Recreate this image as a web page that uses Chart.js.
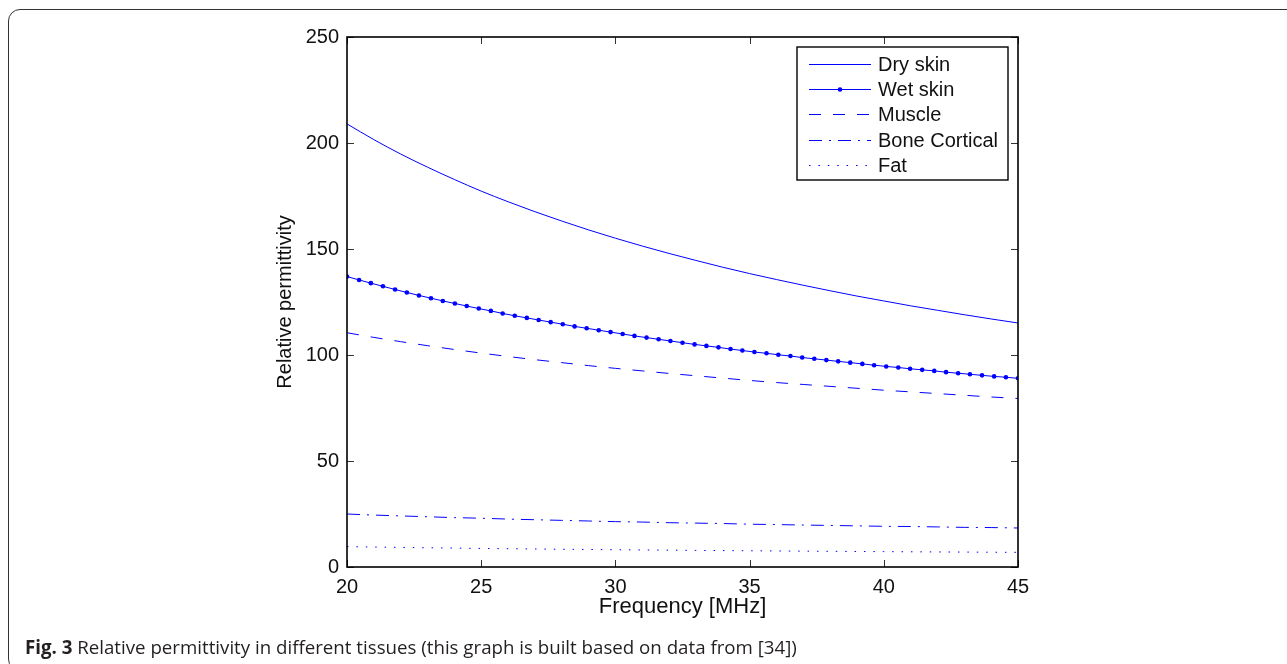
<!DOCTYPE html>
<html>
<head>
<meta charset="utf-8">
<title>Relative permittivity in different tissues</title>
<script src="https://cdn.jsdelivr.net/npm/chart.js@4.4.1/dist/chart.umd.min.js"></script>
<style>
    html, body { margin: 0; padding: 0; background: #fff; }
    body { width: 1287px; height: 664px; position: relative; overflow: hidden; }
    #frame {
        position: absolute; left: 8px; top: 9px; width: 1320px; height: 662px;
        border: 1.6px solid #333; border-radius: 12px; box-sizing: border-box;
    }
    #chartWrap { position: absolute; left: 0; top: 0; width: 1287px; height: 664px; }
    #caption {
        position: absolute; left: 25px; top: 636px; line-height: 22px;
        font-family: "Open Sans", sans-serif; font-size: 18.7px; color: #231f20;
        white-space: nowrap;
    }
    #caption b { font-weight: 700; }
</style>
</head>
<body>
<div id="frame"></div>
<div id="chartWrap"><canvas id="permChart" width="1287" height="664"></canvas></div>
<div id="caption"><b>Fig. 3</b> Relative permittivity in different tissues (this graph is built based on data from [34])</div>

<script>
// Frequency grid (MHz) used by the wet skin curve (one marker per sample)
const freqFine = [
    20.00, 20.45, 20.89, 21.34, 21.79, 22.23, 22.68, 23.13, 23.57, 24.02,
    24.46, 24.91, 25.36, 25.80, 26.25, 26.70, 27.14, 27.59, 28.04, 28.48,
    28.93, 29.38, 29.82, 30.27, 30.71, 31.16, 31.61, 32.05, 32.50, 32.95,
    33.39, 33.84, 34.29, 34.73, 35.18, 35.63, 36.07, 36.52, 36.96, 37.41,
    37.86, 38.30, 38.75, 39.20, 39.64, 40.09, 40.54, 40.98, 41.43, 41.88,
    42.32, 42.77, 43.21, 43.66, 44.11, 44.55, 45.00
];

// Frequency grid (MHz) for the other tissues
const freqCoarse = [
    20, 21, 22, 23, 24, 25, 26, 27, 28, 29, 30, 31, 32,
    33, 34, 35, 36, 37, 38, 39, 40, 41, 42, 43, 44, 45
];

const wetSkin = [
    137.0, 135.4, 133.9, 132.4, 130.9, 129.5, 128.1, 126.8, 125.5, 124.3,
    123.1, 121.9, 120.8, 119.6, 118.5, 117.5, 116.5, 115.5, 114.5, 113.5,
    112.6, 111.7, 110.8, 109.9, 109.0, 108.2, 107.4, 106.6, 105.8, 105.0,
    104.3, 103.6, 102.8, 102.1, 101.4, 100.8, 100.1, 99.5, 98.8, 98.2,
    97.6, 97.0, 96.4, 95.8, 95.2, 94.6, 94.1, 93.5, 93.0, 92.5,
    91.9, 91.4, 90.9, 90.4, 89.9, 89.5, 89.0
];

const drySkin = [
    209.0, 201.6, 194.8, 188.6, 182.8, 177.3, 172.3, 167.6, 163.2, 159.0,
    155.1, 151.4, 147.9, 144.6, 141.4, 138.4, 135.6, 132.9, 130.3, 127.8,
    125.5, 123.2, 121.1, 119.0, 117.0, 115.1
];

const muscle = [
    110.5, 108.3, 106.3, 104.4, 102.6, 100.9, 99.3, 97.8, 96.4, 95.0,
    93.7, 92.5, 91.3, 90.2, 89.1, 88.0, 87.0, 86.1, 85.2, 84.3,
    83.4, 82.6, 81.8, 81.0, 80.2, 79.5
];

const boneCortical = [
    25.0, 24.5, 24.1, 23.7, 23.3, 23.0, 22.6, 22.3, 22.0, 21.7,
    21.4, 21.2, 20.9, 20.7, 20.5, 20.2, 20.0, 19.8, 19.6, 19.4,
    19.2, 19.1, 18.9, 18.7, 18.6, 18.4
];

const fat = [
    9.60, 9.41, 9.24, 9.07, 8.92, 8.77, 8.63, 8.50, 8.37, 8.26,
    8.14, 8.04, 7.93, 7.83, 7.74, 7.65, 7.56, 7.48, 7.40, 7.32,
    7.25, 7.17, 7.10, 7.04, 6.97, 6.91
];

const xTicks = [20, 25, 30, 35, 40, 45];
const yTicks = [0, 50, 100, 150, 200, 250];

const BLUE = '#0000ff';
const FONT = '"Liberation Sans", Arial, Helvetica, sans-serif';

function toPoints(xs, ys) {
    return xs.map((x, i) => ({ x: x, y: ys[i] }));
}

// Box around the plot with inward ticks on all four sides
const axesBox = {
    id: 'axesBox',
    afterDraw(chart) {
        const { ctx, chartArea: a, scales } = chart;
        const tickLen = 7;
        ctx.save();
        ctx.strokeStyle = '#333';
        ctx.lineWidth = 1;
        ctx.beginPath();
        xTicks.forEach(v => {
            const px = Math.round(scales.x.getPixelForValue(v)) + 0.5;
            ctx.moveTo(px, a.bottom); ctx.lineTo(px, a.bottom - tickLen);
            ctx.moveTo(px, a.top); ctx.lineTo(px, a.top + tickLen);
        });
        yTicks.forEach(v => {
            const py = Math.round(scales.y.getPixelForValue(v)) + 0.5;
            ctx.moveTo(a.left, py); ctx.lineTo(a.left + tickLen, py);
            ctx.moveTo(a.right, py); ctx.lineTo(a.right - tickLen, py);
        });
        ctx.stroke();
        ctx.strokeStyle = '#000';
        ctx.lineWidth = 1.6;
        ctx.strokeRect(a.left, a.top, a.right - a.left, a.bottom - a.top);
        ctx.restore();
    }
};

// Legend box in the upper right corner of the plot
const boxLegend = {
    id: 'boxLegend',
    afterDraw(chart) {
        const { ctx, chartArea: a } = chart;
        const w = 211, h = 133;
        const left = a.right - 10 - w;
        const top = a.top + 10;
        ctx.save();
        ctx.fillStyle = '#fff';
        ctx.fillRect(left, top, w, h);
        ctx.strokeStyle = '#000';
        ctx.lineWidth = 1.4;
        ctx.strokeRect(left, top, w, h);

        ctx.font = '20px ' + FONT;
        ctx.textBaseline = 'middle';
        ctx.textAlign = 'left';
        chart.data.datasets.forEach((ds, i) => {
            const y = Math.round(top + 17 + i * 25.2) + 0.5;
            ctx.strokeStyle = ds.borderColor;
            ctx.lineWidth = ds.borderWidth;
            ctx.setLineDash(ds.borderDash || []);
            ctx.beginPath();
            ctx.moveTo(left + 12, y);
            ctx.lineTo(left + 74, y);
            ctx.stroke();
            ctx.setLineDash([]);
            if (ds.pointRadius > 0) {
                ctx.fillStyle = ds.borderColor;
                ctx.beginPath();
                ctx.arc(left + 43, y, ds.pointRadius, 0, Math.PI * 2);
                ctx.fill();
            }
            ctx.fillStyle = '#111';
            ctx.fillText(ds.label, left + 81, y + 1);
        });
        ctx.restore();
    }
};

const ctx = document.getElementById('permChart');

new Chart(ctx, {
    type: 'line',
    data: {
        datasets: [
            {
                label: 'Dry skin',
                data: toPoints(freqCoarse, drySkin),
                borderColor: BLUE, borderWidth: 1, pointRadius: 0,
                cubicInterpolationMode: 'monotone'
            },
            {
                label: 'Wet skin',
                data: toPoints(freqFine, wetSkin),
                borderColor: BLUE, backgroundColor: BLUE, borderWidth: 1,
                pointRadius: 2.3, pointBorderWidth: 0, pointStyle: 'circle'
            },
            {
                label: 'Muscle',
                data: toPoints(freqCoarse, muscle),
                borderColor: BLUE, borderWidth: 1, borderDash: [12, 12], pointRadius: 0,
                cubicInterpolationMode: 'monotone'
            },
            {
                label: 'Bone Cortical',
                data: toPoints(freqCoarse, boneCortical),
                borderColor: BLUE, borderWidth: 1, borderDash: [13, 7, 2, 7], pointRadius: 0,
                cubicInterpolationMode: 'monotone'
            },
            {
                label: 'Fat',
                data: toPoints(freqCoarse, fat),
                borderColor: BLUE, borderWidth: 1, borderDash: [1.5, 7.9], pointRadius: 0,
                cubicInterpolationMode: 'monotone'
            }
        ]
    },
    options: {
        responsive: false,
        animation: false,
        events: [],
        layout: {
            padding: { left: 267, top: 37, right: 269, bottom: 37 }
        },
        plugins: {
            legend: { display: false },
            tooltip: { enabled: false }
        },
        scales: {
            x: {
                type: 'linear',
                min: 20,
                max: 45,
                afterBuildTicks: s => { s.ticks = xTicks.map(v => ({ value: v })); },
                afterFit: s => { s.height = 60; },
                grid: { display: false },
                border: { display: false },
                ticks: {
                    padding: 0,
                    color: '#111',
                    font: { family: FONT, size: 20 },
                    maxRotation: 0
                },
                title: {
                    display: true,
                    text: 'Frequency [MHz]',
                    color: '#111',
                    font: { family: FONT, size: 22 },
                    padding: { top: 0, bottom: 7 }
                }
            },
            y: {
                type: 'linear',
                min: 0,
                max: 250,
                afterBuildTicks: s => { s.ticks = yTicks.map(v => ({ value: v })); },
                afterFit: s => { s.width = 80; },
                grid: { display: false },
                border: { display: false },
                ticks: {
                    padding: 0,
                    color: '#111',
                    font: { family: FONT, size: 20 }
                },
                title: {
                    display: true,
                    text: 'Relative permittivity',
                    color: '#111',
                    font: { family: FONT, size: 20 },
                    padding: { top: 6, bottom: 0 }
                }
            }
        }
    },
    plugins: [axesBox, boxLegend]
});
</script>
</body>
</html>
